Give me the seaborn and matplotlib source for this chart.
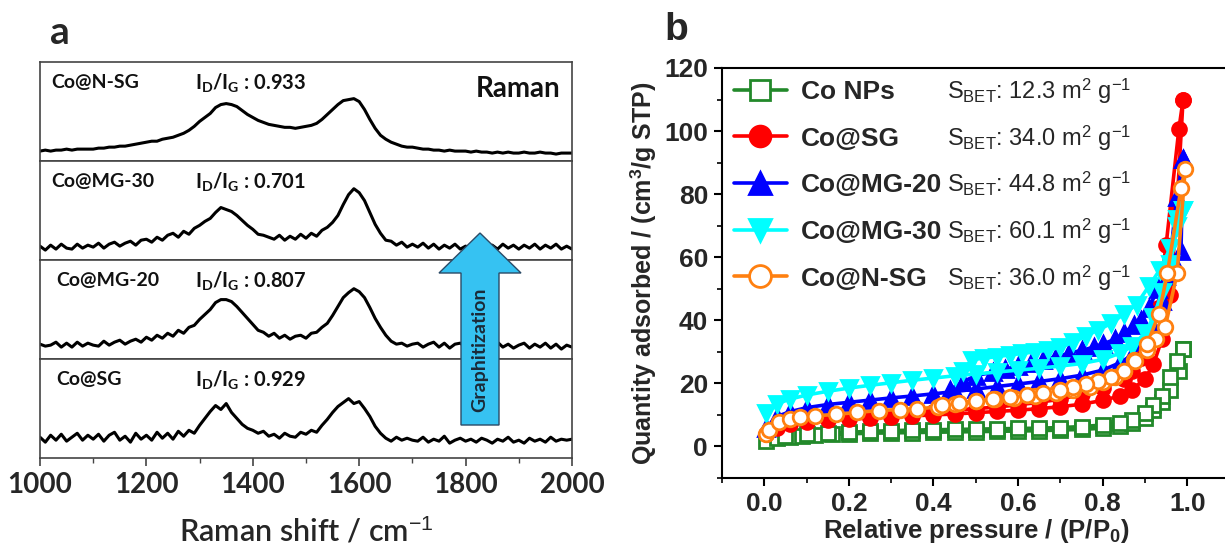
import numpy as np
import pandas as pd
import matplotlib
matplotlib.use("Agg")
import matplotlib.pyplot as plt
import seaborn as sns
from matplotlib.patches import Polygon
from matplotlib.ticker import MultipleLocator, FormatStrFormatter

# ---------------- data: panel a (Raman, intensity in % of panel height) -------------
raman_shift = np.arange(1000, 2001, 10)
raman_names = ["Co@N-SG", "Co@MG-30", "Co@MG-20", "Co@SG"]
raman_ratio = ["0.933", "0.701", "0.807", "0.929"]
raman_nsg = [
    10, 11, 10, 11, 11, 12, 11, 12, 12, 12,
    12, 13, 13, 14, 14, 15, 15, 16, 17, 18,
    19, 20, 20, 22, 23, 24, 26, 28, 31, 35,
    40, 44, 48, 54, 57, 58, 57, 55, 51, 47,
    44, 41, 39, 37, 36, 35, 34, 34, 33, 34,
    35, 36, 38, 42, 47, 52, 57, 61, 62, 63,
    60, 52, 42, 33, 26, 22, 19, 17, 15, 14,
    14, 13, 12, 12, 11, 11, 10, 11, 10, 10,
    10, 9, 10, 9, 9, 8, 9, 8, 9, 8,
    8, 9, 8, 8, 9, 8, 8, 7, 8, 8,
    8]
raman_mg30 = [
    14, 10, 15, 11, 16, 12, 11, 16, 12, 15,
    13, 17, 12, 16, 18, 14, 17, 19, 15, 20,
    21, 18, 23, 20, 25, 27, 23, 29, 26, 32,
    35, 39, 42, 48, 53, 51, 49, 45, 40, 35,
    31, 26, 25, 23, 21, 25, 20, 24, 21, 26,
    22, 27, 24, 30, 33, 38, 45, 56, 66, 72,
    68, 60, 48, 36, 27, 20, 19, 15, 18, 13,
    16, 13, 17, 12, 16, 11, 15, 12, 16, 11,
    14, 12, 11, 16, 12, 15, 11, 16, 12, 15,
    11, 15, 12, 16, 11, 15, 12, 16, 11, 14,
    11]
raman_mg20 = [
    15, 13, 14, 17, 12, 16, 12, 17, 13, 16,
    14, 13, 18, 14, 17, 19, 15, 18, 20, 17,
    22, 19, 24, 21, 26, 23, 29, 26, 32, 34,
    40, 45, 50, 57, 60, 60, 58, 53, 47, 41,
    35, 29, 27, 23, 26, 21, 24, 20, 23, 24,
    21, 26, 27, 32, 36, 44, 53, 62, 67, 71,
    68, 62, 52, 41, 32, 24, 18, 15, 16, 13,
    15, 16, 12, 15, 17, 12, 16, 11, 15, 16,
    12, 15, 11, 16, 12, 15, 17, 12, 15, 11,
    14, 16, 11, 15, 12, 16, 11, 15, 10, 14,
    12]
raman_sg = [
    21, 16, 23, 18, 24, 17, 21, 25, 18, 23,
    19, 24, 17, 23, 26, 18, 22, 16, 25, 19,
    23, 18, 26, 20, 25, 19, 27, 22, 28, 25,
    33, 40, 47, 53, 49, 55, 46, 40, 34, 30,
    28, 25, 27, 22, 24, 20, 25, 22, 21, 26,
    24, 28, 26, 33, 39, 46, 52, 56, 60, 55,
    57, 50, 42, 32, 25, 20, 17, 21, 18, 20,
    18, 17, 21, 16, 19, 17, 22, 15, 18, 20,
    17, 19, 16, 20, 18, 15, 19, 17, 21, 16,
    18, 15, 20, 17, 19, 16, 21, 17, 19, 18,
    19]
raman_spectra = [raman_nsg, raman_mg30, raman_mg20, raman_sg]

# ---------------- data: panel b (N2 isotherms) ----------------
bet_names = ["Co NPs", "Co@SG", "Co@MG-20", "Co@MG-30", "Co@N-SG"]
bet_sbet = ["12.3", "34.0", "44.8", "60.1", "36.0"]

nps_ads_p = [0.005, 0.03, 0.06, 0.09, 0.12, 0.16, 0.2, 0.25, 0.3, 0.35, 0.4, 0.45, 0.5, 0.55,
             0.6, 0.65, 0.7, 0.75, 0.8, 0.84, 0.87, 0.9, 0.92, 0.94, 0.96, 0.98, 0.99]
nps_ads_v = [1.8, 2.6, 3.0, 3.3, 3.5, 3.8, 4.0, 4.2, 4.3, 4.4, 4.5, 4.6, 4.7, 4.8,
             4.9, 5.0, 5.2, 5.4, 5.8, 6.5, 7.5, 9.0, 11.5, 14.0, 18.0, 24.0, 31.0]
nps_des_p = [0.99, 0.975, 0.96, 0.94, 0.92, 0.9, 0.87, 0.84, 0.8, 0.75, 0.7, 0.65, 0.6, 0.55,
             0.5, 0.45, 0.4, 0.35, 0.3, 0.25, 0.2, 0.15, 0.1, 0.05]
nps_des_v = [31.0, 27.0, 22.0, 16.0, 13.0, 10.5, 8.5, 7.5, 6.8, 6.3, 6.0, 5.8, 5.7, 5.6,
             5.5, 5.4, 5.3, 5.2, 5.0, 4.8, 4.5, 4.2, 3.8, 3.2]

sg_ads_p = [0.005, 0.03, 0.06, 0.1, 0.15, 0.2, 0.25, 0.3, 0.35, 0.4, 0.45, 0.5, 0.55, 0.6,
            0.65, 0.7, 0.75, 0.8, 0.84, 0.87, 0.9, 0.92, 0.94, 0.96, 0.975, 0.99]
sg_ads_v = [4.0, 6.0, 7.0, 7.8, 8.3, 8.7, 9.0, 9.4, 9.7, 10.0, 10.3, 10.7, 11.1, 11.5,
            12.0, 12.6, 13.4, 14.6, 16.0, 18.0, 21.5, 26.0, 34.0, 48.0, 75.0, 110.0]
sg_des_p = [0.99, 0.98, 0.95, 0.93, 0.91, 0.89, 0.87, 0.85, 0.8, 0.75, 0.7, 0.65, 0.6,
            0.55, 0.5, 0.45, 0.4]
sg_des_v = [110.0, 100.5, 64.0, 44.0, 34.0, 28.0, 24.0, 21.5, 18.5, 16.5, 15.0, 14.0, 13.2,
            12.5, 12.0, 11.5, 11.0]

mg20_ads_p = [0.005, 0.03, 0.06, 0.1, 0.15, 0.2, 0.25, 0.3, 0.35, 0.4, 0.45, 0.5, 0.55, 0.6,
              0.65, 0.7, 0.75, 0.8, 0.84, 0.87, 0.9, 0.92, 0.94, 0.96, 0.975, 0.99]
mg20_ads_v = [6.0, 9.5, 11.0, 12.3, 13.3, 14.0, 14.7, 15.4, 16.0, 16.7, 17.4, 18.2, 19.0, 19.8,
              20.6, 21.5, 22.6, 24.2, 26.5, 29.0, 33.5, 38.0, 46.0, 60.0, 79.0, 91.0]
mg20_des_p = [0.99, 0.985, 0.97, 0.95, 0.93, 0.91, 0.89, 0.875, 0.85, 0.83, 0.8, 0.78, 0.75,
              0.72, 0.69, 0.66, 0.63, 0.6, 0.57, 0.54, 0.5, 0.47, 0.44]
mg20_des_v = [91.0, 62.0, 58.0, 54.0, 50.0, 44.0, 40.0, 38.5, 36.0, 34.0, 32.5, 31.5, 30.5,
              29.5, 28.5, 27.5, 26.5, 25.5, 24.5, 23.5, 22.5, 20.5, 18.0]

mg30_ads_p = [0.005, 0.03, 0.06, 0.1, 0.15, 0.2, 0.25, 0.3, 0.35, 0.4, 0.45, 0.5, 0.55, 0.6,
              0.65, 0.7, 0.75, 0.8, 0.84, 0.87, 0.9, 0.92, 0.94, 0.96, 0.975, 0.99]
mg30_ads_v = [10.5, 13.5, 15.0, 16.3, 17.5, 18.5, 19.4, 20.2, 21.0, 21.7, 22.4, 23.0, 23.6, 24.2,
              24.8, 25.5, 26.3, 27.6, 29.5, 31.8, 36.0, 41.0, 49.0, 58.0, 70.0, 75.0]
mg30_des_p = [0.99, 0.975, 0.96, 0.935, 0.91, 0.88, 0.85, 0.82, 0.79, 0.76, 0.73, 0.7, 0.67,
              0.64, 0.61, 0.58, 0.55, 0.52, 0.49, 0.47]
mg30_des_v = [75.0, 72.0, 63.0, 56.0, 51.0, 45.0, 42.0, 39.0, 37.0, 35.0, 33.0, 31.5, 30.5,
              30.0, 29.5, 29.0, 28.5, 28.0, 27.5, 24.0]

nsg_ads_p = [0.005, 0.01, 0.035, 0.06, 0.085, 0.12, 0.17, 0.22, 0.27, 0.32, 0.36, 0.41, 0.45,
             0.5, 0.545, 0.59, 0.64, 0.69, 0.73, 0.77, 0.8, 0.83, 0.85, 0.875, 0.905, 0.925,
             0.948, 0.976, 0.995]
nsg_ads_v = [4.0, 5.2, 7.6, 8.6, 9.2, 9.7, 10.2, 10.8, 11.4, 11.7, 11.9, 12.5, 13.4,
             14.3, 15.0, 15.3, 16.1, 17.0, 18.0, 19.0, 20.5, 22.0, 23.9, 27.3, 30.5, 34.0,
             38.0, 55.0, 88.0]
nsg_des_p = [0.985, 0.953, 0.933, 0.905, 0.877, 0.85, 0.82, 0.79, 0.76, 0.73, 0.7, 0.66, 0.62,
             0.58, 0.54, 0.5, 0.46, 0.42]
nsg_des_v = [81.8, 55.0, 42.0, 32.4, 27.0, 24.0, 22.0, 20.8, 19.8, 19.0, 18.0, 17.0, 16.2,
             15.6, 15.0, 14.5, 13.8, 13.0]

iso_p = [nps_ads_p + nps_des_p, sg_ads_p + sg_des_p, mg20_ads_p + mg20_des_p,
         mg30_ads_p + mg30_des_p, nsg_ads_p + nsg_des_p]
iso_v = [nps_ads_v + nps_des_v, sg_ads_v + sg_des_v, mg20_ads_v + mg20_des_v,
         mg30_ads_v + mg30_des_v, nsg_ads_v + nsg_des_v]

# ---------------- style ----------------
sns.set_theme(style="ticks")
plt.rcParams["font.family"] = ["Liberation Sans", "DejaVu Sans"]
plt.rcParams.update({
    "mathtext.fontset": "custom",
    "mathtext.rm": "Liberation Sans",
    "mathtext.sf": "Liberation Sans:bold",
    "mathtext.bf": "Lato:bold",
    "mathtext.it": "Lato",
})

W, H = 1225, 552
fig = plt.figure(figsize=(W / 100, H / 100), dpi=100)


def fx(px):
    return px / W


def fy(py):
    return 1 - py / H


# ---------------- panel a ----------------
a_left, a_right, a_top, a_bot = 40, 572, 62, 458
sub_h = (a_bot - a_top) / 4
name_x = [1022, 1022, 1030, 1030]
for i, (name, ratio, spec) in enumerate(zip(raman_names, raman_ratio, raman_spectra)):
    top = a_top + i * sub_h
    ax = fig.add_axes([fx(a_left), fy(top + sub_h), (a_right - a_left) / W, sub_h / H])
    df = pd.DataFrame({"shift": raman_shift, "intensity": np.array(spec) / 100.0})
    sns.lineplot(data=df, x="shift", y="intensity", ax=ax, color="black", lw=2.2)
    ax.set_xlim(1000, 2000)
    ax.set_ylim(0, 1)
    ax.set_yticks([])
    ax.set_ylabel("")
    ax.set_xlabel("")
    for sp in ax.spines.values():
        sp.set_visible(True)
        sp.set_color("#444444")
        sp.set_linewidth(1.2)
    ax.text(name_x[i], 0.79, name, fontsize=14, fontweight="bold", family="Lato",
            va="center", ha="left", color="#111111")
    ax.text(1292, 0.79, r"I$_{\mathbf{D}}$/I$_{\mathbf{G}}$ : " + ratio, fontsize=14.5,
            fontweight="bold", family="Lato", va="center", ha="left", color="#111111")
    if i == 0:
        ax.text(1978, 0.73, "Raman", fontsize=20, fontweight="bold", family="Lato",
                va="center", ha="right", color="#111111")
    if i < 3:
        ax.tick_params(bottom=False, labelbottom=False, left=False)
    else:
        ax.xaxis.set_major_locator(MultipleLocator(200))
        ax.xaxis.set_minor_locator(MultipleLocator(100))
        ax.tick_params(axis="x", which="major", direction="out", length=6, width=1.2,
                       color="#444444", labelsize=20, pad=4)
        ax.tick_params(axis="x", which="minor", direction="out", length=3.5, width=1.0,
                       color="#444444")
        ax.tick_params(left=False)
        for lbl in ax.get_xticklabels():
            lbl.set_fontweight("bold")
            lbl.set_family("Lato")
        ax.set_xlabel(r"Raman shift / cm$^{-1}$", fontsize=22, family="Lato",
                      fontweight="semibold", labelpad=12)

# arrow "Graphitization"
arrow_px = [(461, 425), (499, 425), (499, 273), (521, 273), (480, 233), (439, 273), (461, 273)]
poly = Polygon([(fx(x), fy(y)) for x, y in arrow_px], closed=True, transform=fig.transFigure,
               facecolor="#36c2f2", edgecolor="#2a4a66", lw=1.0, zorder=20)
fig.add_artist(poly)
fig.text(fx(480), fy(350), "Graphitization", rotation=90, fontsize=14, fontweight="bold",
         family="Lato", ha="center", va="center", color="#1b2a38", zorder=21)

fig.text(fx(50), fy(33), "a", fontsize=28, fontweight="bold", family="Lato",
         ha="left", va="center")

# ---------------- panel b ----------------
b_left, b_top, b_bot = 722, 68, 478
axb = fig.add_axes([fx(b_left), fy(b_bot), 507.6 / W, (b_bot - b_top) / H])
colors = ["#22892a", "#ff0000", "#0000ff", "#00ffff", "#ff8010"]
markers = ["s", "o", "^", "v", "o"]
faces = ["white", "#ff0000", "#0000ff", "#00ffff", "white"]
msizes = [9.5, 10, 11, 11, 10.5]
for name, p, v, c, m, f, ms in zip(bet_names, iso_p, iso_v, colors, markers, faces, msizes):
    df = pd.DataFrame({"p": p, "v": v})
    sns.lineplot(data=df, x="p", y="v", ax=axb, sort=False, estimator=None, color=c,
                 lw=2.6, marker=m, markersize=ms, markerfacecolor=f, markeredgecolor=c,
                 markeredgewidth=2.0, label=name)
axb.set_xlim(-0.1, 1.1)
axb.set_ylim(-10, 120)
axb.xaxis.set_minor_locator(MultipleLocator(0.1))
axb.set_xticks(np.arange(0, 1.01, 0.2))
axb.xaxis.set_major_formatter(FormatStrFormatter("%.1f"))
axb.yaxis.set_minor_locator(MultipleLocator(10))
axb.set_yticks(np.arange(0, 121, 20))
axb.tick_params(which="major", direction="out", length=6, width=1.5, color="black",
                labelsize=19, pad=4)
axb.tick_params(which="minor", direction="out", length=3.5, width=1.2, color="black")
for lbl in axb.get_xticklabels() + axb.get_yticklabels():
    lbl.set_fontweight("bold")
for sp in ["left", "bottom", "top"]:
    axb.spines[sp].set_visible(True)
    axb.spines[sp].set_color("black")
    axb.spines[sp].set_linewidth(1.5)
axb.spines["right"].set_visible(False)
axb.set_xlabel(r"Relative pressure / (P/P$_{\mathsf{0}}$)", fontsize=18.5, fontweight="bold",
               labelpad=1)
axb.set_ylabel(r"Quantity adsorbed / (cm$^{\mathsf{3}}$/g STP)", fontsize=18,
               fontweight="bold", labelpad=4)

handles, labels = axb.get_legend_handles_labels()
leg = axb.legend(handles, labels, loc="upper left", bbox_to_anchor=(0.0, 1.0),
                 frameon=False, prop={"family": "Liberation Sans", "weight": "bold", "size": 19},
                 handlelength=2.0, handletextpad=0.55, labelspacing=0.86, markerscale=1.5,
                 borderaxespad=0.0, borderpad=0.45)

fig.text(fx(664), fy(30), "b", fontsize=28, fontweight="bold", ha="left", va="center")

fig.canvas.draw()
for t, s in zip(leg.get_texts(), bet_sbet):
    x0, y0 = t.get_transform().transform(t.get_position())
    fig.text(fx(947), y0 / fig.bbox.height,
             r"S$_{\mathrm{BET}}$: " + s + r" m$^{2}$ g$^{-1}$",
             fontsize=17, ha="left", va="baseline", family="Liberation Sans")

fig.savefig("out.png", dpi=100)
